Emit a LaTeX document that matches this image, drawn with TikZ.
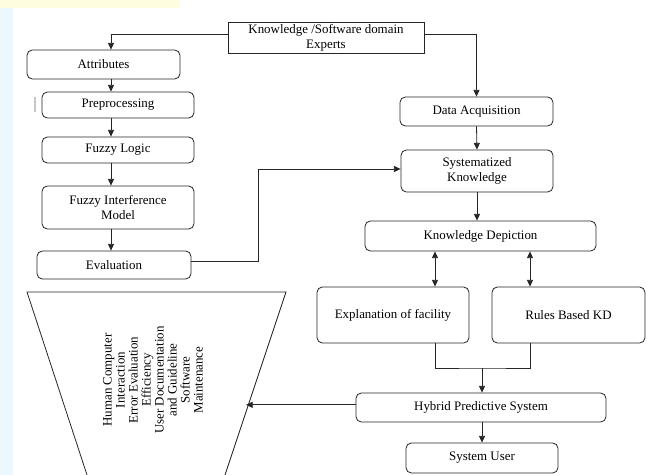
\documentclass[tikz,border=0pt]{standalone}
\usepackage{fontspec}
\setmainfont{Liberation Serif}
\usetikzlibrary{arrows.meta}
\begin{document}
\begin{tikzpicture}[x=0.75pt,y=-0.75pt,
    box/.style={draw=black!85,line width=0.6pt,rounded corners=4pt,inner sep=0pt,
      align=center,font=\rmfamily\fontsize{9.7}{11.3}\selectfont},
    sqbox/.style={box,rounded corners=0pt},
    arr/.style={-{Triangle[length=5pt,width=4.5pt]}},
    dbl/.style={{Triangle[length=5pt,width=4.5pt]}-{Triangle[length=5pt,width=4.5pt]}}]
  \useasboundingbox (0,0) rectangle (647,475);
  % faint backdrop at the edges
  \fill[cyan!8] (0,0) rectangle (13,475);
  \fill[yellow!12] (0,0) rectangle (180,8);
  \draw[gray!45,line width=0.8pt] (35,97) -- (35,112);
  % boxes
  \node[sqbox,minimum width=147pt,minimum height=23.25pt] (experts) at (326,37.5)
    {Knowledge /Software domain\\Experts};
  \node[box,minimum width=114.75pt,minimum height=21.75pt] (attr) at (103.5,64.5) {Attributes};
  \node[box,minimum width=114pt,minimum height=19.5pt] (prep) at (118,105) {Preprocessing};
  \node[box,minimum width=114pt,minimum height=19.5pt] (fuzzy) at (118,150) {Fuzzy Logic};
  \node[box,minimum width=114pt,minimum height=32.25pt] (fim) at (118,207.5)
    {Fuzzy Interference\\Model};
  \node[box,minimum width=115.5pt,minimum height=21pt] (eval) at (114,265) {Evaluation};
  \node[box,minimum width=114.75pt,minimum height=21.75pt] (acq) at (476.5,111.5) {Data Acquisition};
  \node[box,minimum width=114pt,minimum height=31.5pt] (sysk) at (477,171)
    {Systematized\\Knowledge};
  \node[box,minimum width=173.25pt,minimum height=22.5pt] (kdep) at (480.5,236) {Knowledge Depiction};
  \node[box,minimum width=114pt,minimum height=42pt] (expl) at (393,315) {Explanation of facility};
  \node[box,minimum width=114.75pt,minimum height=42pt] (rules) at (568.5,315) {Rules Based KD};
  \node[box,minimum width=187.5pt,minimum height=21.75pt] (hybrid) at (481,407.5) {Hybrid Predictive System};
  \node[box,minimum width=114pt,minimum height=22.5pt] (user) at (482,458) {System User};
  % funnel
  \draw[black!85,line width=0.6pt] (88,478) -- (27,292) -- (286,292) -- (224,478);
  \node[rotate=90,align=center,inner sep=0pt,font=\rmfamily\fontsize{9.7}{9.75}\selectfont] (list) at (153,380)
    {Human Computer\\Interaction\\Error Evaluation\\Efficiency\\User Documentation\\and Guideline\\Software\\Maintenance};
  \coordinate (spineL) at (111,0);
  \coordinate (bendE) at (258,0);
  \coordinate (spineA) at (435,0);
  \coordinate (spineB) at (530,0);
  \coordinate (merge) at (482,368);
  \coordinate (hit) at (246,0);
  \begin{scope}[black!85,line width=0.6pt]
    \draw[arr] ([yshift=2.6pt]experts.west) -| (spineL |- attr.north);
    \draw[arr] (spineL |- attr.south) -- (spineL |- prep.north);
    \draw[arr] (spineL |- prep.south) -- (spineL |- fuzzy.north);
    \draw[arr] (spineL |- fuzzy.south) -- (spineL |- fim.north);
    \draw[arr] (spineL |- fim.south) -- (spineL |- eval.north);
    \draw[arr] ([yshift=3pt]eval.east) -- ([yshift=3pt]eval.east -| bendE) |- ([yshift=1.5pt]sysk.west);
    \draw[arr] ([yshift=2.6pt]experts.east) -| (acq.north);
    \draw[arr] (acq.south) -- (sysk.north);
    \draw[arr] (sysk.south) -- (sysk.south |- kdep.north);
    \draw[dbl] (spineA |- kdep.south) -- (spineA |- expl.north);
    \draw[dbl] (spineB |- kdep.south) -- (spineB |- rules.north);
    \draw (spineA |- expl.south) |- (merge) -| (spineB |- rules.south);
    \draw[arr] (merge) -- (merge |- hybrid.north);
    \draw[arr] (hybrid.south -| merge) -- (merge |- user.north);
    \draw[arr] ([yshift=2pt]hybrid.west) -- ([yshift=2pt]hybrid.west -| hit);
  \end{scope}
\end{tikzpicture}
\end{document}
